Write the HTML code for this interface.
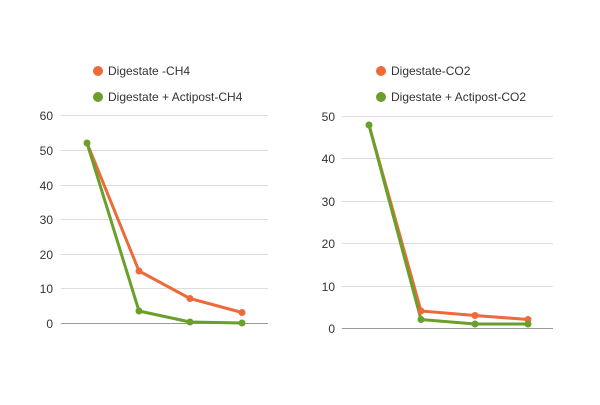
<!DOCTYPE html>
<html><head><style>body{margin:0;background:#fff}</style></head><body>
<svg width="600" height="400" xmlns="http://www.w3.org/2000/svg" font-family="Liberation Sans, sans-serif" font-size="12" fill="#333">
<rect width="600" height="400" fill="#fff"/>
<g stroke="#ddd" stroke-width="1">
<line x1="61" x2="268" y1="115.5" y2="115.5"/><line x1="61" x2="268" y1="150.5" y2="150.5"/><line x1="61" x2="268" y1="185.5" y2="185.5"/><line x1="61" x2="268" y1="219.5" y2="219.5"/><line x1="61" x2="268" y1="254.5" y2="254.5"/><line x1="61" x2="268" y1="288.5" y2="288.5"/>
<line x1="342" x2="553" y1="116.5" y2="116.5"/><line x1="342" x2="553" y1="158.5" y2="158.5"/><line x1="342" x2="553" y1="201.5" y2="201.5"/><line x1="342" x2="553" y1="243.5" y2="243.5"/><line x1="342" x2="553" y1="286.5" y2="286.5"/>
</g>
<line x1="61" x2="268" y1="323.5" y2="323.5" stroke="#999"/>
<line x1="342" x2="553" y1="328.5" y2="328.5" stroke="#999"/>
<g text-anchor="end">
<text x="53" y="120">60</text><text x="53" y="155">50</text><text x="53" y="190">40</text><text x="53" y="224">30</text><text x="53" y="259">20</text><text x="53" y="293">10</text><text x="53" y="328">0</text>
<text x="335" y="121">50</text><text x="335" y="163">40</text><text x="335" y="206">30</text><text x="335" y="248">20</text><text x="335" y="291">10</text><text x="335" y="333">0</text>
</g>
<circle cx="98" cy="71" r="5" fill="#ee6a3b"/><text x="108" y="75">Digestate -CH4</text>
<circle cx="98" cy="97" r="5" fill="#6a9f2a"/><text x="108" y="101">Digestate + Actipost-CH4</text>
<circle cx="381" cy="71" r="5" fill="#ee6a3b"/><text x="391" y="75">Digestate-CO2</text>
<circle cx="381" cy="97" r="5" fill="#6a9f2a"/><text x="391" y="101">Digestate + Actipost-CO2</text>
<g stroke-width="3" fill="none" stroke-linejoin="round">
<polyline stroke="#ee6a3b" points="87,143 139,271 190,298.5 242,312.5"/>
<polyline stroke="#6a9f2a" points="87,143 139,311 190,322 242,323"/>
<polyline stroke="#ee6a3b" points="369,125 421,311 475,315.5 528,319.5"/>
<polyline stroke="#6a9f2a" points="369,125 421,319.5 475,324 528,324"/>
</g>
<g fill="#ee6a3b"><circle cx="139" cy="271" r="3.5"/><circle cx="190" cy="298.5" r="3.5"/><circle cx="242" cy="312.5" r="3.5"/><circle cx="421" cy="311" r="3.5"/><circle cx="475" cy="315.5" r="3.5"/><circle cx="528" cy="319.5" r="3.5"/></g>
<g fill="#6a9f2a"><circle cx="87" cy="143" r="3.5"/><circle cx="139" cy="311" r="3.5"/><circle cx="190" cy="322" r="3.5"/><circle cx="242" cy="323" r="3.5"/><circle cx="369" cy="125" r="3.5"/><circle cx="421" cy="319.5" r="3.5"/><circle cx="475" cy="324" r="3.5"/><circle cx="528" cy="324" r="3.5"/></g>
</svg>
</body></html>
